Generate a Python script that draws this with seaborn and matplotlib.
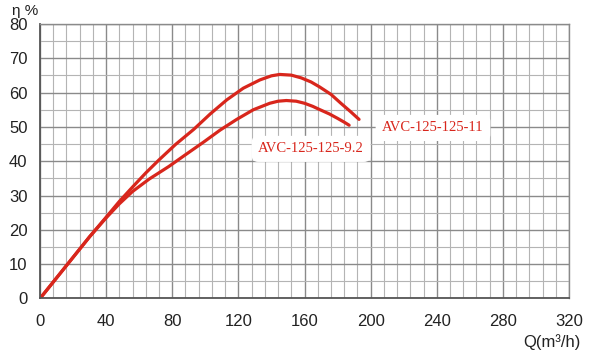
import matplotlib
matplotlib.use("Agg")
import matplotlib.pyplot as plt
import seaborn as sns
import pandas as pd
import numpy as np

# efficiency curves
q_11 = [0, 10, 20, 30, 40, 48, 56, 64, 72, 82, 93, 103, 113, 123, 133, 140, 145, 152, 158, 164, 169, 176, 182, 188, 193]
eta_11 = [0, 6, 12, 18, 23.7, 28.3, 32.5, 36.6, 40.4, 44.9, 49.3, 53.8, 57.9, 61.3, 63.7, 64.9, 65.3, 65.1, 64.3, 63.1, 61.7, 59.5, 56.9, 54.4, 52.2]

q_92 = [0, 10, 20, 30, 40, 48, 56, 66, 78, 88, 99, 109, 119, 129, 139, 144, 149, 155, 160, 165, 169, 175, 180, 184, 187]
eta_92 = [0, 6, 12, 18, 23.5, 27.6, 31.2, 34.8, 38.5, 41.9, 45.6, 49.1, 52.2, 55.0, 56.9, 57.5, 57.7, 57.5, 56.9, 56.0, 55.1, 53.8, 52.5, 51.4, 50.5]

x_ticks = [0, 40, 80, 120, 160, 200, 240, 280, 320]
y_ticks = [0, 10, 20, 30, 40, 50, 60, 70, 80]

df = pd.concat([
    pd.DataFrame({"Q": q_11, "eta": eta_11, "model": "AVC-125-125-11"}),
    pd.DataFrame({"Q": q_92, "eta": eta_92, "model": "AVC-125-125-9.2"}),
])

sns.set_style("white")
plt.rcParams["font.family"] = ["Liberation Sans", "DejaVu Sans"]

fig = plt.figure(figsize=(6, 3.51), dpi=100)
ax = fig.add_axes([0.0667, 0.1496, 0.8816, 0.782])

red = "#d8261c"
sns.lineplot(data=df, x="Q", y="eta", hue="model", palette=[red, red],
             sort=False, estimator=None, linewidth=2.3, legend=False, ax=ax)

ax.set_xlim(0, 320)
ax.set_ylim(0, 80)
ax.set_xticks(x_ticks)
ax.set_yticks(y_ticks)
ax.set_xticks(np.arange(0, 321, 8), minor=True)
ax.set_yticks(np.arange(0, 81, 5), minor=True)
ax.grid(which="major", color="#8a8a8a", linewidth=1.0)
ax.grid(which="minor", color="#b4b4b4", linewidth=0.8)
ax.set_axisbelow(True)
ax.tick_params(which="both", length=0, labelsize=12, colors="#222222")
ax.tick_params(axis="x", pad=11)
ax.tick_params(axis="y", pad=9)
ax.set_xlabel("")
ax.set_ylabel("")
for side in ["top", "right"]:
    ax.spines[side].set_color("#8a8a8a")
    ax.spines[side].set_linewidth(1.0)
for side in ["left", "bottom"]:
    ax.spines[side].set_color("#555555")
    ax.spines[side].set_linewidth(1.3)

fig.text(0.02, 1 - 11 / 351, "η %", fontsize=11, va="center", ha="left", color="#222222")
fig.text(0.967, 0.002, "Q(m³/h)", fontsize=12, va="bottom", ha="right", color="#222222")

box = dict(facecolor="white", edgecolor="none", boxstyle="round,pad=0.45")
ax.text(207, 49.7, "AVC-125-125-11", color=red, fontsize=10.5,
        family=["Liberation Serif", "DejaVu Serif"], va="center", ha="left", bbox=box)
ax.text(132, 43.6, "AVC-125-125-9.2", color=red, fontsize=10.5,
        family=["Liberation Serif", "DejaVu Serif"], va="center", ha="left", bbox=box)

fig.savefig("out.png", dpi=100)
